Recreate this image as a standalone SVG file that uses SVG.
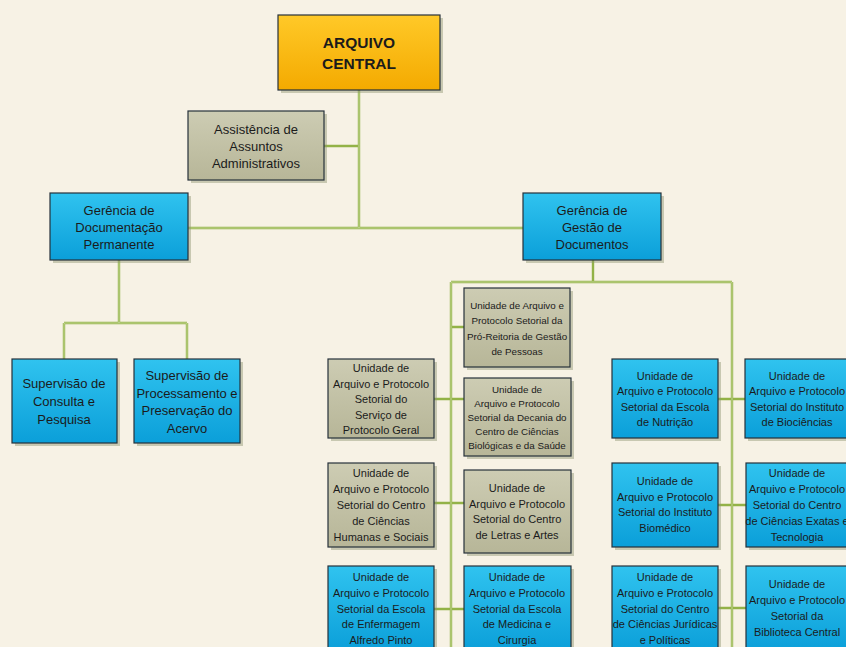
<svg xmlns="http://www.w3.org/2000/svg" width="846" height="647" viewBox="0 0 846 647">
<defs>
<linearGradient id="gBlue" x1="0" y1="0" x2="0" y2="1"><stop offset="0" stop-color="#30C3EF"/><stop offset="1" stop-color="#0B9FD9"/></linearGradient>
<linearGradient id="gGrey" x1="0" y1="0" x2="0" y2="1"><stop offset="0" stop-color="#CDCCB3"/><stop offset="1" stop-color="#B7B698"/></linearGradient>
<linearGradient id="gOrange" x1="0" y1="0" x2="0" y2="1"><stop offset="0" stop-color="#FFC928"/><stop offset="1" stop-color="#F4AA00"/></linearGradient>
</defs>
<style>
.sh{fill:#8E9470;opacity:0.45}
.bx{stroke:#26313A;stroke-width:1.2}
.blue{fill:url(#gBlue)}
.grey{fill:url(#gGrey)}
.orange{fill:url(#gOrange)}
text{font-family:"Liberation Sans",Arial,sans-serif;fill:#1B1B1B;text-anchor:middle;dominant-baseline:central}
.t13{font-size:13px}
.t12{font-size:11px}
.t11{font-size:9.8px}
.tb{font-size:15.5px;font-weight:bold}
.cn path{fill:none;stroke:#93B247;stroke-width:2.4}
.cn2 path{fill:none;stroke:#D9E5B4;stroke-width:0.7}
</style>
<rect width="846" height="647" fill="#F7F2E5"/>
<g class="cn">
<path id="c1" d="M359,90V228M324,146H359M188,228H523"/>
<path d="M119,260V323M64,323H187M64,323V359M187,323V359"/>
<path d="M593,260V282M451,282H732M451,282V647M732,282V647"/>
<path d="M451,327H464M434,399H464M434,503H464M434,609H464"/>
<path d="M718,399H745M718,505H746M718,608H746"/>
</g>
<g class="cn2">
<path d="M359,90V228M188,228H523M119,260V323M64,323H187M64,323V359M187,323V359M451,282H732M451,282V647M732,282V647"/>
</g>
<g id="arquivo-central"><rect class="sh" x="281" y="18" width="162" height="75"/><rect class="bx orange" x="278" y="15" width="162" height="75"/><text class="tb" x="359" y="42">ARQUIVO</text><text class="tb" x="359" y="63">CENTRAL</text></g>
<g id="assistencia"><rect class="sh" x="191" y="114" width="136" height="69"/><rect class="bx grey" x="188" y="111" width="136" height="69"/><text class="t13" x="256" y="129">Assistência de</text><text class="t13" x="256" y="146">Assuntos</text><text class="t13" x="256" y="163">Administrativos</text></g>
<g id="ger-doc-perm"><rect class="sh" x="53" y="196" width="138" height="67"/><rect class="bx blue" x="50" y="193" width="138" height="67"/><text class="t13" x="119" y="210">Gerência de</text><text class="t13" x="119" y="227">Documentação</text><text class="t13" x="119" y="244">Permanente</text></g>
<g id="ger-gest-doc"><rect class="sh" x="526" y="196" width="138" height="67"/><rect class="bx blue" x="523" y="193" width="138" height="67"/><text class="t13" x="592" y="210">Gerência de</text><text class="t13" x="592" y="227">Gestão de</text><text class="t13" x="592" y="244">Documentos</text></g>
<g id="sup-consulta"><rect class="sh" x="15" y="362" width="105" height="84"/><rect class="bx blue" x="12" y="359" width="105" height="84"/><text class="t13" x="64" y="383">Supervisão de</text><text class="t13" x="64" y="401">Consulta e</text><text class="t13" x="64" y="419">Pesquisa</text></g>
<g id="sup-processamento"><rect class="sh" x="137" y="362" width="106" height="84"/><rect class="bx blue" x="134" y="359" width="106" height="84"/><text class="t13" x="187" y="375">Supervisão de</text><text class="t13" x="187" y="393">Processamento e</text><text class="t13" x="187" y="410">Preservação do</text><text class="t13" x="187" y="428">Acervo</text></g>
<g id="u-pro-reitoria"><rect class="sh" x="467" y="291" width="106" height="79"/><rect class="bx grey" x="464" y="288" width="106" height="79"/><text class="t11" x="517" y="305">Unidade de Arquivo e</text><text class="t11" x="517" y="320">Protocolo Setorial da</text><text class="t11" x="517" y="336">Pró-Reitoria de Gestão</text><text class="t11" x="517" y="351">de Pessoas</text></g>
<g id="u-protocolo-geral"><rect class="sh" x="331" y="362" width="106" height="79"/><rect class="bx grey" x="328" y="359" width="106" height="79"/><text class="t12" x="381" y="368">Unidade de</text><text class="t12" x="381" y="384">Arquivo e Protocolo</text><text class="t12" x="381" y="399">Setorial do</text><text class="t12" x="381" y="415">Serviço de</text><text class="t12" x="381" y="430">Protocolo Geral</text></g>
<g id="u-decania"><rect class="sh" x="467" y="381" width="107" height="78"/><rect class="bx grey" x="464" y="378" width="107" height="78"/><text class="t11" x="517" y="389">Unidade de</text><text class="t11" x="517" y="403">Arquivo e Protocolo</text><text class="t11" x="517" y="417">Setorial da Decania do</text><text class="t11" x="517" y="431">Centro de Ciências</text><text class="t11" x="517" y="445">Biológicas e da Saúde</text></g>
<g id="u-cch"><rect class="sh" x="331" y="466" width="106" height="84"/><rect class="bx grey" x="328" y="463" width="106" height="84"/><text class="t12" x="381" y="473">Unidade de</text><text class="t12" x="381" y="489">Arquivo e Protocolo</text><text class="t12" x="381" y="505">Setorial do Centro</text><text class="t12" x="381" y="521">de Ciências</text><text class="t12" x="381" y="537">Humanas e Sociais</text></g>
<g id="u-cla"><rect class="sh" x="467" y="473" width="107" height="83"/><rect class="bx grey" x="464" y="470" width="107" height="83"/><text class="t12" x="517" y="488">Unidade de</text><text class="t12" x="517" y="504">Arquivo e Protocolo</text><text class="t12" x="517" y="519">Setorial do Centro</text><text class="t12" x="517" y="535">de Letras e Artes</text></g>
<g id="u-enfermagem"><rect class="sh" x="331" y="569" width="106" height="85"/><rect class="bx blue" x="328" y="566" width="106" height="85"/><text class="t12" x="381" y="577">Unidade de</text><text class="t12" x="381" y="593">Arquivo e Protocolo</text><text class="t12" x="381" y="609">Setorial da Escola</text><text class="t12" x="381" y="624">de Enfermagem</text><text class="t12" x="381" y="640">Alfredo Pinto</text></g>
<g id="u-medicina"><rect class="sh" x="467" y="569" width="107" height="85"/><rect class="bx blue" x="464" y="566" width="107" height="85"/><text class="t12" x="517" y="577">Unidade de</text><text class="t12" x="517" y="593">Arquivo e Protocolo</text><text class="t12" x="517" y="609">Setorial da Escola</text><text class="t12" x="517" y="624">de Medicina e</text><text class="t12" x="517" y="640">Cirurgia</text></g>
<g id="u-nutricao"><rect class="sh" x="615" y="362" width="106" height="79"/><rect class="bx blue" x="612" y="359" width="106" height="79"/><text class="t12" x="665" y="376">Unidade de</text><text class="t12" x="665" y="391">Arquivo e Protocolo</text><text class="t12" x="665" y="407">Setorial da Escola</text><text class="t12" x="665" y="422">de Nutrição</text></g>
<g id="u-biociencias"><rect class="sh" x="748" y="362" width="106" height="79"/><rect class="bx blue" x="745" y="359" width="106" height="79"/><text class="t12" x="797" y="376">Unidade de</text><text class="t12" x="797" y="391">Arquivo e Protocolo</text><text class="t12" x="797" y="407">Setorial do Instituto</text><text class="t12" x="797" y="422">de Biociências</text></g>
<g id="u-biomedico"><rect class="sh" x="615" y="466" width="106" height="84"/><rect class="bx blue" x="612" y="463" width="106" height="84"/><text class="t12" x="665" y="481">Unidade de</text><text class="t12" x="665" y="497">Arquivo e Protocolo</text><text class="t12" x="665" y="512">Setorial do Instituto</text><text class="t12" x="665" y="528">Biomédico</text></g>
<g id="u-exatas"><rect class="sh" x="749" y="466" width="106" height="84"/><rect class="bx blue" x="746" y="463" width="106" height="84"/><text class="t12" x="797" y="473">Unidade de</text><text class="t12" x="797" y="489">Arquivo e Protocolo</text><text class="t12" x="797" y="505">Setorial do Centro</text><text class="t12" x="797" y="521">de Ciências Exatas e</text><text class="t12" x="797" y="537">Tecnologia</text></g>
<g id="u-juridicas"><rect class="sh" x="615" y="569" width="106" height="85"/><rect class="bx blue" x="612" y="566" width="106" height="85"/><text class="t12" x="665" y="577">Unidade de</text><text class="t12" x="665" y="593">Arquivo e Protocolo</text><text class="t12" x="665" y="609">Setorial do Centro</text><text class="t12" x="665" y="624">de Ciências Jurídicas</text><text class="t12" x="665" y="640">e Políticas</text></g>
<g id="u-biblioteca"><rect class="sh" x="749" y="569" width="106" height="85"/><rect class="bx blue" x="746" y="566" width="106" height="85"/><text class="t12" x="797" y="584">Unidade de</text><text class="t12" x="797" y="600">Arquivo e Protocolo</text><text class="t12" x="797" y="616">Setorial da</text><text class="t12" x="797" y="632">Biblioteca Central</text></g>
</svg>
